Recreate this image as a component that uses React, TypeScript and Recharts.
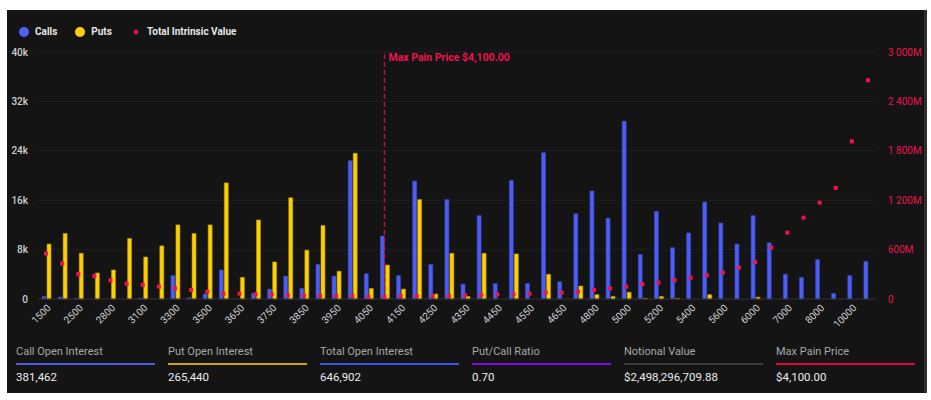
import {
  ComposedChart, Bar, Line, XAxis, YAxis, CartesianGrid, ReferenceLine,
} from 'recharts'

// strike prices, open interest (contracts) and total intrinsic value (millions USD)
const strikes = [
  1500, 2000, 2500, 2700, 2800, 3000, 3100, 3200, 3300, 3400, 3500, 3600, 3650,
  3700, 3750, 3800, 3850, 3900, 3950, 4000, 4050, 4100, 4150, 4200, 4250, 4300,
  4350, 4400, 4450, 4500, 4550, 4600, 4650, 4700, 4800, 4900, 5000, 5100, 5200,
  5300, 5400, 5500, 5600, 5800, 6000, 6500, 7000, 7500, 8000, 9000, 10000, 12000,
]
const calls = [
  400, 300, 100, 0, 0, 0, 100, 0, 3800, 200, 800, 4700, 0,
  900, 1600, 3700, 1700, 5600, 3700, 22400, 4100, 10200, 3800, 19100, 5600, 16100,
  2400, 13500, 2500, 19200, 2500, 23700, 2800, 13800, 17500, 13100, 28800, 7200, 14200,
  8300, 10700, 15700, 12300, 8900, 13500, 9100, 4000, 3500, 6400, 900, 3800, 6100,
]
const puts = [
  8900, 10600, 7400, 4200, 4700, 9800, 6800, 8600, 12000, 10600, 12000, 18800, 3500,
  12800, 6000, 16400, 7900, 11900, 4500, 23600, 1700, 5500, 1600, 16100, 800, 7400,
  400, 7400, 0, 7300, 0, 4000, 0, 2100, 700, 400, 1100, 100, 400,
  100, 0, 700, 0, 0, 300, 0, 0, 0, 0, 0, 0, 0,
]
const intrinsic = [
  553, 431, 301, 280, 228, 187, 171, 150, 130, 110, 89, 65, 65,
  57, 57, 45, 41, 37, 37, 37, 24, 24, 37, 37, 37, 37,
  49, 49, 57, 57, 65, 77, 77, 89, 110, 130, 150, 179, 199,
  228, 260, 289, 321, 382, 451, 626, 805, 988, 1171, 1350, 1915, 2657,
]

const oiTicks = [0, 8000, 16000, 24000, 32000, 40000]
const valueTicks = [0, 600, 1200, 1800, 2400, 3000]
const maxPain = 4100

const stats = [
  { title: 'Call Open Interest', value: '381,462', color: '#4b5fe0' },
  { title: 'Put Open Interest', value: '265,440', color: '#d1a300' },
  { title: 'Total Open Interest', value: '646,902', color: '#3d57e8' },
  { title: 'Put/Call Ratio', value: '0.70', color: '#7d0ae0' },
  { title: 'Notional Value', value: '$2,498,296,709.88', color: '#3a3a3a' },
  { title: 'Max Pain Price', value: '$4,100.00', color: '#e0063f' },
]

const data = strikes.map((strike, i) => ({
  strike,
  calls: calls[i],
  puts: puts[i],
  intrinsic: intrinsic[i],
}))

const FONT = 'Roboto, "Noto Sans", sans-serif'
const RED = '#f0124f'

const fmtOI = (v: number) => (v === 0 ? '0' : `${v / 1000}k`)
const fmtM = (v: number) =>
  v === 0 ? '0' : `${String(v).replace(/\B(?=(\d{3})+(?!\d))/g, ' ')}M`

function StrikeTick({ x, y, payload }: any) {
  return (
    <g transform={`translate(${x + 3},${y - 1})`}>
      <text
        x={0}
        y={0}
        dy="0.35em"
        textAnchor="end"
        transform="rotate(-45)"
        fill="#d0d0d0"
        fontSize={10}
        fontFamily={FONT}
      >
        {payload.value}
      </text>
    </g>
  )
}

function SquareDot({ cx, cy, index }: any) {
  if (cx == null || cy == null) return <g key={index} />
  return <rect key={index} x={cx - 2} y={cy - 2} width={4} height={4} fill={RED} />
}

function MaxPainLabel({ viewBox }: any) {
  return (
    <text
      x={viewBox.x + 4}
      y={viewBox.y + 5}
      dy="0.35em"
      fill={RED}
      fontSize={10.5}
      fontWeight={700}
      fontFamily={FONT}
    >
      Max Pain Price $4,100.00
    </text>
  )
}

function LegendRow() {
  const item = { display: 'flex', alignItems: 'center', marginRight: 18 }
  const txt = { fontSize: 10, fontWeight: 700, color: '#e6e6e6' }
  return (
    <div
      style={{
        position: 'absolute', left: 19, top: 25, display: 'flex',
        fontFamily: FONT, lineHeight: '14px',
      }}
    >
      <div style={item}>
        <span style={{ width: 10, height: 10, borderRadius: 5, background: '#4f5ff7', marginRight: 6 }} />
        <span style={txt}>Calls</span>
      </div>
      <div style={item}>
        <span style={{ width: 10, height: 10, borderRadius: 5, background: '#ffd000', marginRight: 6 }} />
        <span style={txt}>Puts</span>
      </div>
      <div style={item}>
        <span style={{ width: 4, height: 4, background: RED, margin: '0 9px 0 4px' }} />
        <span style={txt}>Total Intrinsic Value</span>
      </div>
    </div>
  )
}

export default function App() {
  return (
    <div style={{ position: 'relative', width: 931, height: 400, background: '#fff', overflow: 'hidden' }}>
      <style>{'body{margin:0}'}</style>
      <div
        style={{
          position: 'absolute', left: 7, top: 10, width: 917, height: 383,
          background: '#141414', borderRight: '3px solid #2f2f2f',
        }}
      />
      <div style={{ position: 'absolute', left: 0, top: 0 }}>
        <ComposedChart
          width={931}
          height={345}
          data={data}
          margin={{ top: 52, right: 0, bottom: 0, left: 0 }}
          barGap={1}
        >
          <CartesianGrid vertical={false} stroke="#1f1f1f" yAxisId="left" />
          <XAxis
            dataKey="strike"
            height={46}
            interval={1}
            tick={<StrikeTick />}
            tickLine={false}
            axisLine={{ stroke: '#303030' }}
          />
          <YAxis
            yAxisId="left"
            width={38}
            domain={[0, 40000]}
            ticks={oiTicks}
            tickFormatter={fmtOI}
            tickLine={false}
            axisLine={false}
            tickMargin={4}
            tick={{ fill: '#cfcfcf', fontSize: 10, fontWeight: 500, fontFamily: FONT }}
          />
          <YAxis
            yAxisId="right"
            orientation="right"
            width={55}
            domain={[0, 3000]}
            ticks={valueTicks}
            tickFormatter={fmtM}
            tickLine={false}
            axisLine={false}
            tickMargin={6}
            tick={{ fill: RED, fontSize: 10, fontFamily: FONT, textAnchor: 'start' }}
          />
          <ReferenceLine
            x={maxPain}
            yAxisId="left"
            stroke="#b8103f"
            strokeWidth={1.5}
            strokeDasharray="5 3"
            label={<MaxPainLabel />}
          />
          <Bar
            dataKey="calls"
            yAxisId="left"
            barSize={4}
            fill="#4d5ef4"
            stroke="#3646c4"
            strokeWidth={0.6}
            isAnimationActive={false}
          />
          <Bar
            dataKey="puts"
            yAxisId="left"
            barSize={4}
            fill="#ffd000"
            stroke="#b99600"
            strokeWidth={0.6}
            isAnimationActive={false}
          />
          <Line
            dataKey="intrinsic"
            yAxisId="right"
            stroke="none"
            dot={<SquareDot />}
            activeDot={false}
            isAnimationActive={false}
          />
        </ComposedChart>
      </div>
      <LegendRow />
      {stats.map((s, i) => (
        <div
          key={s.title}
          style={{ position: 'absolute', left: 16 + i * 152, top: 344, width: 139, fontFamily: FONT }}
        >
          <div style={{ fontSize: 11, color: '#a8a8a8', lineHeight: '16px' }}>{s.title}</div>
          <div style={{ height: 2, background: s.color, marginTop: 3 }} />
          <div style={{ fontSize: 11.5, color: '#ececec', lineHeight: '16px', marginTop: 4 }}>{s.value}</div>
        </div>
      ))}
    </div>
  )
}
